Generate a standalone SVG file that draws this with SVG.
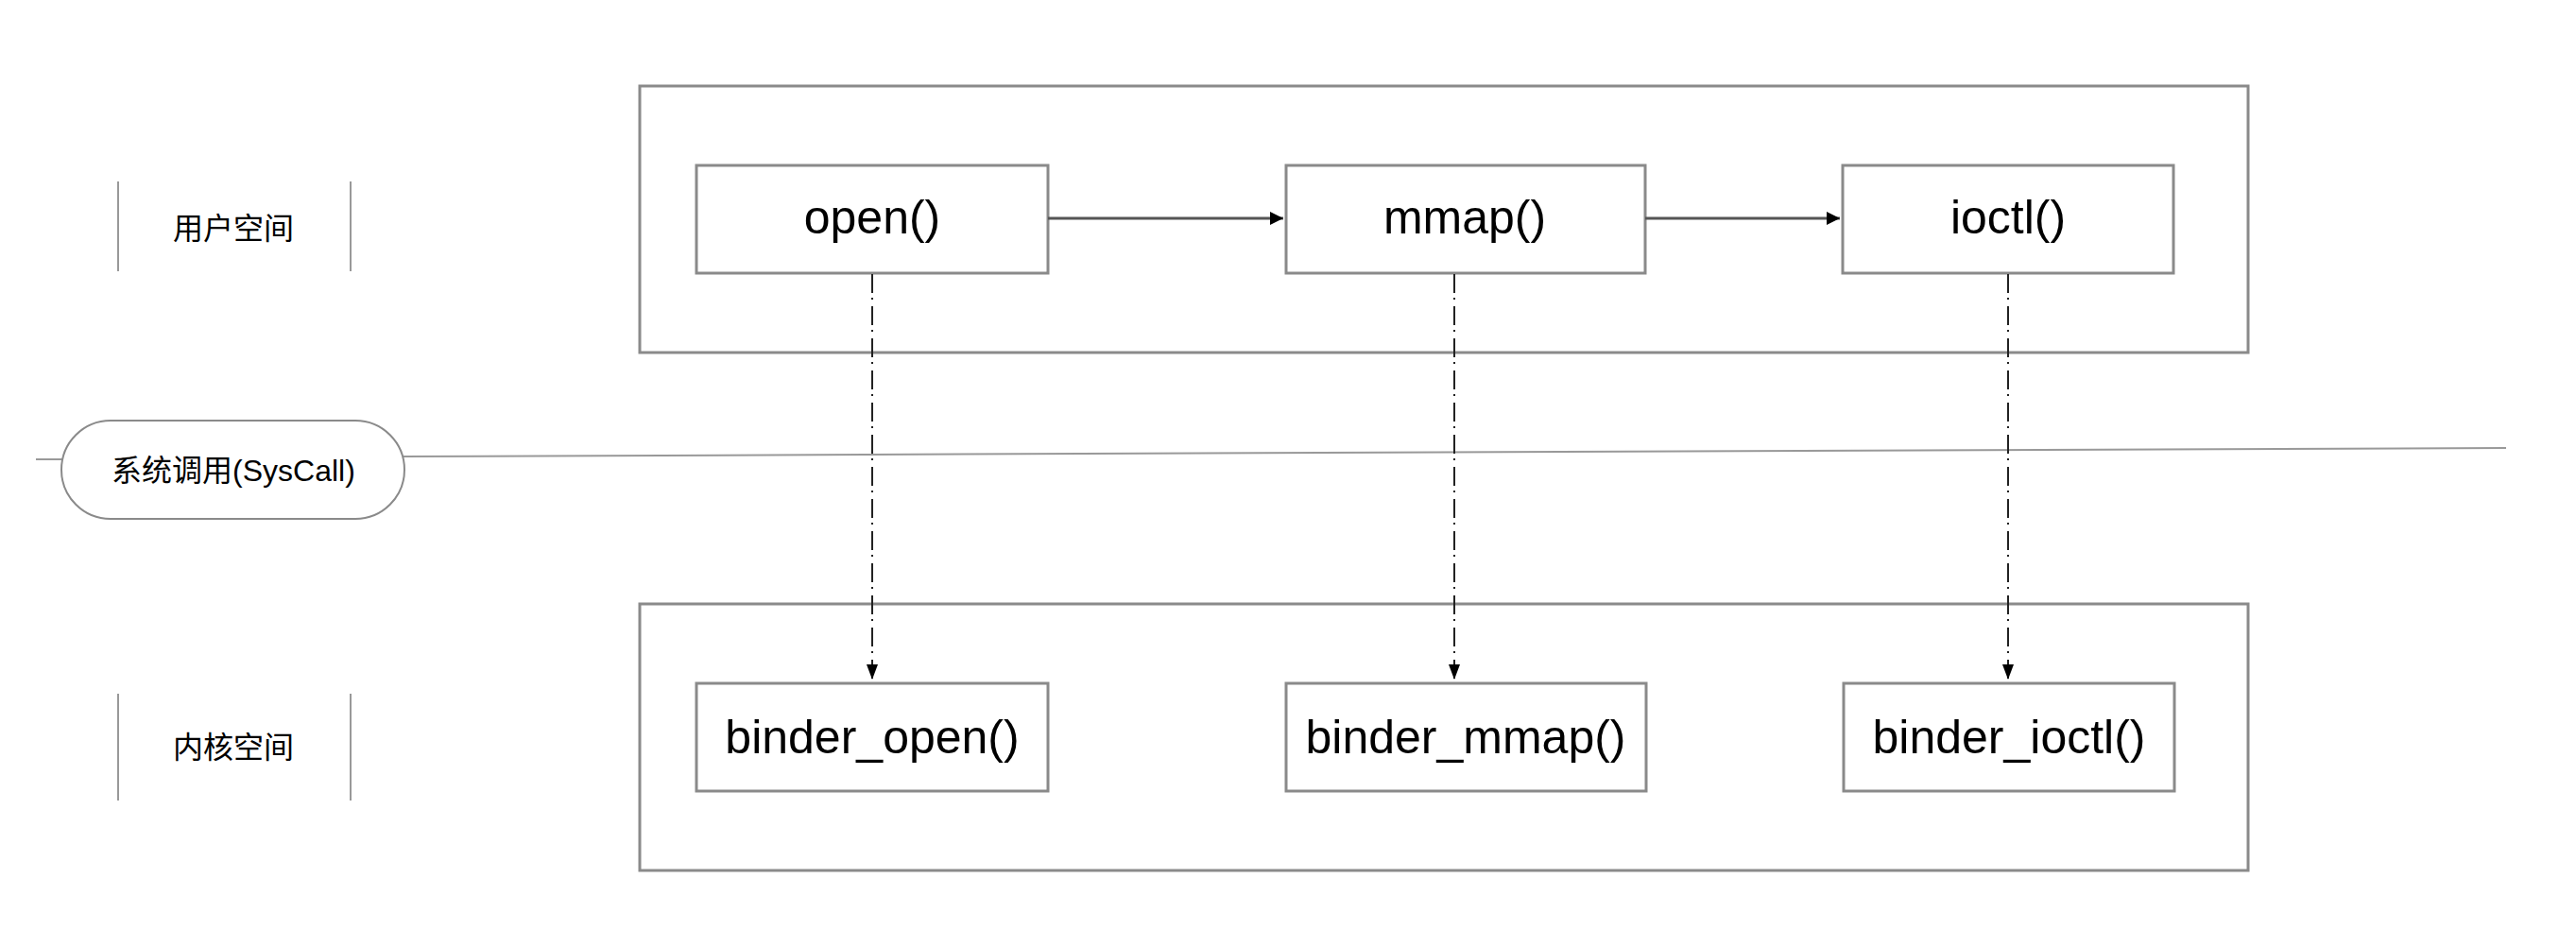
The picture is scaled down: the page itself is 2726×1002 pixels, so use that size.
<svg xmlns="http://www.w3.org/2000/svg" width="2726" height="1002" viewBox="0 0 2726 1002">
<style>
.bg{fill:#fff}
.frame{fill:none;stroke:#8a8a8a;stroke-width:3}
.box{fill:#fff;stroke:#8a8a8a;stroke-width:3}
.sep{stroke:#999;stroke-width:2}
.lbl{font-family:"Liberation Sans","Noto Sans CJK SC",sans-serif;font-size:50px;fill:#000;text-anchor:middle}
.cjk{font-family:"Liberation Sans","Noto Sans CJK SC",sans-serif;font-size:32px;fill:#000;text-anchor:middle}
.flow{stroke:#555;stroke-width:3;fill:none}
.call{stroke:#222;stroke-width:2;fill:none;stroke-dasharray:20 5 2 7}
</style>
<defs>
<marker id="ah" viewBox="0 0 10 10" refX="10" refY="5" markerWidth="14" markerHeight="14" markerUnits="userSpaceOnUse" orient="auto">
<path d="M0,0 L10,5 L0,10 z" fill="#000"/>
</marker>
<marker id="ahv" viewBox="0 0 10 10" refX="10" refY="5" markerWidth="16" markerHeight="12" markerUnits="userSpaceOnUse" orient="auto" preserveAspectRatio="none">
<path d="M0,0 L10,5 L0,10 z" fill="#000"/>
</marker>
</defs>
<rect class="bg" x="0" y="0" width="2726" height="1002"/>

<g id="user-space-frame"><rect class="frame" x="677" y="91" width="1702" height="282"/></g>
<g id="kernel-space-frame"><rect class="frame" x="677" y="639" width="1702" height="282"/></g>

<g id="label-user">
<line class="sep" x1="125" y1="192" x2="125" y2="287"/>
<line class="sep" x1="371" y1="192" x2="371" y2="287"/>
<text class="cjk" x="247" y="253">用户空间</text>
</g>
<g id="label-kernel">
<line class="sep" x1="125" y1="734" x2="125" y2="847"/>
<line class="sep" x1="371" y1="734" x2="371" y2="847"/>
<text class="cjk" x="247" y="802">内核空间</text>
</g>

<g id="syscall-line">
<line class="sep" x1="38" y1="486" x2="66" y2="486"/>
<line class="sep" x1="427" y1="483" x2="2652" y2="474"/>
</g>
<g id="syscall">
<rect x="65" y="445" width="363" height="104" rx="52" ry="52" fill="#fff" stroke="#8a8a8a" stroke-width="2"/>
<text class="cjk" x="247" y="509">系统调用(SysCall)</text>
</g>

<g id="open"><rect class="box" x="737" y="175" width="372" height="114"/><text class="lbl" x="923" y="247">open()</text></g>
<g id="mmap"><rect class="box" x="1361" y="175" width="380" height="114"/><text class="lbl" x="1550" y="247">mmap()</text></g>
<g id="ioctl"><rect class="box" x="1950" y="175" width="350" height="114"/><text class="lbl" x="2125" y="247">ioctl()</text></g>

<g id="binder_open"><rect class="box" x="737" y="723" width="372" height="114"/><text class="lbl" x="923" y="797">binder_open()</text></g>
<g id="binder_mmap"><rect class="box" x="1361" y="723" width="381" height="114"/><text class="lbl" x="1551" y="797">binder_mmap()</text></g>
<g id="binder_ioctl"><rect class="box" x="1951" y="723" width="350" height="114"/><text class="lbl" x="2126" y="797">binder_ioctl()</text></g>

<g id="connectors">
<line class="flow" x1="1109" y1="231" x2="1358" y2="231" marker-end="url(#ah)"/>
<line class="flow" x1="1741" y1="231" x2="1947" y2="231" marker-end="url(#ah)"/>
<line class="call" x1="923" y1="290" x2="923" y2="719" marker-end="url(#ahv)"/>
<line class="call" x1="1539" y1="290" x2="1539" y2="719" marker-end="url(#ahv)"/>
<line class="call" x1="2125" y1="290" x2="2125" y2="719" marker-end="url(#ahv)"/>
</g>
</svg>
